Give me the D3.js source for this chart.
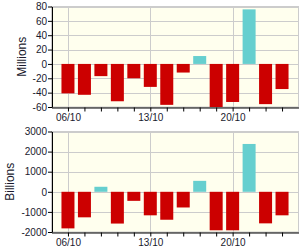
<!DOCTYPE html>
<html>
<head>
<meta charset="utf-8">
<script src="https://cdn.jsdelivr.net/npm/d3@7"></script>
<style>
body { margin: 0; background: #fff; }
text { font-family: Arial, "Liberation Sans", sans-serif; fill: #1a1a2e; }
</style>
</head>
<body>
<div id="div_svg"></div>
<script>
var days = ["06/10", "07/10", "08/10", "09/10", "10/10", "13/10", "14/10",
	"15/10", "16/10", "17/10", "20/10", "21/10", "22/10", "23/10"];
var dayLabels = ["06/10", "13/10", "20/10"];
var millions = [-41, -43, -17, -52, -20, -32, -57, -12, 11, -60, -53, 76, -56, -35];
var billions = [-1820, -1270, 250, -1580, -450, -1170, -1390, -780, 545, -1915, -1915, 2380, -1570, -1170];
var millionTicks = [-60, -40, -20, 0, 20, 40, 60, 80];
var billionTicks = [-2000, -1000, 0, 1000, 2000, 3000];

var svg = d3.select("#div_svg").append("svg").attr("width", 300).attr("height", 250);

var x = d3.scaleLinear().domain([-1, days.length]).range([51.5, 298.5]);

function drawPanel(values, ticks, top, bottom, title, titleX) {
	var y = d3.scaleLinear().domain([ticks[0], ticks[ticks.length - 1]]).range([bottom, top]);
	var g = svg.append("g");

	g.append("rect").attr("x", x.range()[0]).attr("y", top)
		.attr("width", x.range()[1] - x.range()[0]).attr("height", bottom - top)
		.style("fill", "#ffffee").style("stroke", "#cccccc");

	g.selectAll(".hg").data(ticks).enter().append("line")
		.attr("x1", x.range()[0]).attr("x2", x.range()[1])
		.attr("y1", function(d) { return Math.round(y(d)) + 0.5; })
		.attr("y2", function(d) { return Math.round(y(d)) + 0.5; })
		.style("stroke", "#cccccc");

	g.selectAll(".vg").data(dayLabels).enter().append("line")
		.attr("x1", function(d) { return Math.round(x(days.indexOf(d))) + 0.5; })
		.attr("x2", function(d) { return Math.round(x(days.indexOf(d))) + 0.5; })
		.attr("y1", top).attr("y2", bottom)
		.style("stroke", "#cccccc");

	var bw = 13;
	g.selectAll(".bar").data(values).enter().append("rect")
		.attr("x", function(d, i) { return x(i) - bw / 2; })
		.attr("y", function(d) { return y(Math.max(0, d)); })
		.attr("width", bw)
		.attr("height", function(d) { return Math.abs(y(d) - y(0)); })
		.style("fill", function(d) { return d < 0 ? "#cc0000" : "#66cfcf"; });

	// plain numbers, hyphen minus, no thousands separator
	var yAxis = d3.axisLeft(y).tickValues(ticks).tickSize(4).tickSizeOuter(0)
		.tickFormat(function(d) { return String(d); });
	var ya = g.append("g").attr("transform", "translate(" + (x.range()[0] + 0.5) + ",0)").call(yAxis);
	ya.selectAll("text").style("font-size", "10px").attr("x", -5);
	ya.select(".domain").style("stroke", "#000");
	ya.selectAll(".tick line").style("stroke", "#000");

	var xAxis = d3.axisBottom(x).tickValues(d3.range(days.length)).tickSize(4).tickSizeOuter(0)
		.tickFormat(function(i) { return dayLabels.indexOf(days[i]) >= 0 ? days[i] : ""; });
	var xa = g.append("g").attr("transform", "translate(0," + (bottom + 0.5) + ")").call(xAxis);
	xa.selectAll("text").style("font-size", "10px").attr("y", 6);
	xa.select(".domain").style("stroke", "#000");
	xa.selectAll(".tick line").style("stroke", "#000");

	g.append("text").text(title)
		.attr("transform", "translate(" + titleX + "," + ((top + bottom) / 2) + ") rotate(-90)")
		.attr("text-anchor", "middle").attr("dy", "0.35em")
		.style("font-size", "12px");
}

drawPanel(millions, millionTicks, 6.5, 107, "Millions", 22);
drawPanel(billions, billionTicks, 131.5, 232, "Billions", 10);
</script>
</body>
</html>
